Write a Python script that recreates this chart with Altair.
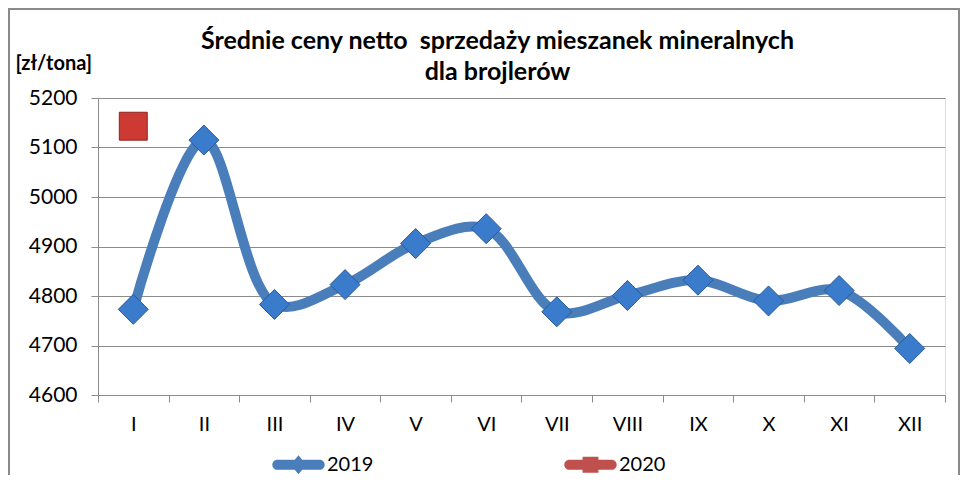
import altair as alt
import pandas as pd

months = ["I", "II", "III", "IV", "V", "VI", "VII", "VIII", "IX", "X", "XI", "XII"]
values_2019 = [4773, 5115, 4783, 4823, 4906, 4936, 4768, 4801, 4832, 4790, 4811, 4694]
months_2020 = ["I"]
values_2020 = [5143]
series_names = ["2019", "2020"]
series_colors = ["#4a7ebb", "#c0504d"]
y_ticks = [4600, 4700, 4800, 4900, 5000, 5100, 5200]

df19 = pd.DataFrame({"month": months, "value": values_2019, "series": "2019"})
df20 = pd.DataFrame({"month": months_2020, "value": values_2020, "series": "2020"})
df = pd.concat([df19, df20], ignore_index=True)

FONT = "Lato"

x_enc = alt.X(
    "month:N",
    sort=months,
    scale=alt.Scale(domain=months, paddingInner=0, paddingOuter=0),
    axis=alt.Axis(
        title=None, labelAngle=0, tickBand="extent", tickSize=7, labelPadding=12,
        labelFontSize=20, labelFont=FONT, labelColor="#000", domainColor="#8c8c8c",
        tickColor="#8c8c8c", grid=False,
    ),
)
y_enc = alt.Y(
    "value:Q",
    scale=alt.Scale(domain=[4600, 5200], nice=False, zero=False),
    axis=alt.Axis(
        values=y_ticks, format="d", tickSize=7, labelPadding=14, labelFontSize=21,
        labelFont=FONT, labelColor="#000", domainColor="#8c8c8c", tickColor="#8c8c8c",
        gridColor="#8c8c8c", gridWidth=1.2,
        title="[zł/tona]", titleAngle=0, titleX=-83, titleY=-35, titleAlign="left",
        titleBaseline="middle", titleFontSize=20, titleFont=FONT, titleFontWeight="bold",
        titleColor="#000",
    ),
)

base = alt.Chart(df).encode(x=x_enc, y=y_enc)

line = base.transform_filter(alt.datum.series == "2019").mark_line(
    color="#4a7ebb", strokeWidth=10, interpolate="catmull-rom", strokeCap="round"
)
pts19 = base.transform_filter(alt.datum.series == "2019").mark_point(
    shape="diamond", filled=True, size=900, fill="#3b7bcc", stroke="#2a5a96",
    strokeWidth=1, opacity=1,
)
pts20 = base.transform_filter(alt.datum.series == "2020").mark_point(
    shape="square", filled=True, size=780, fill="#cc3a33", stroke="#8e2420",
    strokeWidth=1, opacity=1,
)

leg_path_19 = ("M-0.8,-0.19 L0.8,-0.19 A0.19,0.19 0 0 1 0.8,0.19 L-0.8,0.19 "
               "A0.19,0.19 0 0 1 -0.8,-0.19 Z M-0.3,0 L0,-0.36 L0.3,0 L0,0.36 Z")
leg_path_20 = ("M-0.8,-0.19 L0.8,-0.19 A0.19,0.19 0 0 1 0.8,0.19 L-0.8,0.19 "
               "A0.19,0.19 0 0 1 -0.8,-0.19 Z M-0.3,-0.3 L0.3,-0.3 L0.3,0.3 L-0.3,0.3 Z")

legend_props = dict(
    title=None, orient="none", legendX=174, legendY=340, direction="horizontal",
    symbolSize=2800, labelFontSize=20, labelFont=FONT, labelColor="#000",
    columnPadding=190, labelOffset=2, symbolStrokeWidth=0, symbolOpacity=1,
)

legend_layer = alt.Chart(df).transform_filter("false").mark_point(filled=True, opacity=1).encode(
    x=alt.X("month:N", sort=months),
    y=alt.Y("value:Q"),
    color=alt.Color(
        "series:N",
        scale=alt.Scale(domain=series_names, range=series_colors),
        legend=alt.Legend(**legend_props),
    ),
    shape=alt.Shape(
        "series:N",
        scale=alt.Scale(domain=series_names, range=[leg_path_19, leg_path_20]),
        legend=alt.Legend(**legend_props),
    ),
)

# chart-area frame (decoration)
frame = alt.Chart(pd.DataFrame({"f": [0]})).mark_rect(
    fill=None, stroke="#8a8a8a", strokeWidth=2
).encode(
    x=alt.value(-89), x2=alt.value(861), y=alt.value(-89), y2=alt.value(420)
)

chart = alt.layer(frame, line, pts19, pts20, legend_layer).properties(
    width=847,
    height=297,
    title=alt.TitleParams(
        text=["Średnie ceny netto \u00a0sprzedaży mieszanek mineralnych", "dla brojlerów"],
        font=FONT, fontSize=25, fontWeight="bold", color="#000", lineHeight=31,
        anchor="middle", dx=-24, dy=77, offset=0,
    ),
    autosize=alt.AutoSizeParams(type="none"),
    padding={"left": 90, "top": 90, "right": 15, "bottom": 80},
).configure_view(stroke=None).configure(background="#ffffff")

chart.save("out.html", embed_options={"renderer": "svg", "actions": False})
